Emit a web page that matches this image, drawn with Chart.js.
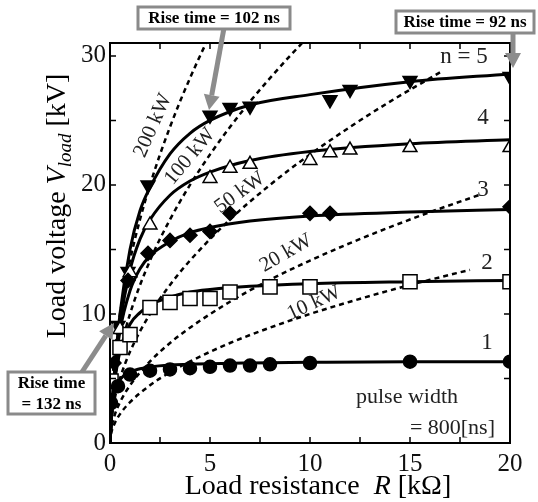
<!DOCTYPE html>
<html>
<head>
<meta charset="utf-8">
<script src="https://cdn.jsdelivr.net/npm/chart.js@4"></script>
<style>
html, body { margin: 0; padding: 0; background: #fff; }
</style>
</head>
<body>
<canvas id="chart" width="538" height="502"></canvas>
<script>
const SERIF = '"Liberation Serif", "Times New Roman", serif';

// measured points: load resistance R [kOhm] and load voltage V [kV], per stage count n
const r1 = [0.05, 0.4, 1, 2, 3, 4, 5, 6, 7, 8, 10, 15, 20];
const v1 = [3.1, 4.4, 5.3, 5.6, 5.7, 5.8, 5.9, 6.0, 6.0, 6.1, 6.2, 6.3, 6.3];
const r2 = [0.05, 0.5, 1, 2, 3, 4, 5, 6, 8, 10, 15, 20];
const v2 = [4.8, 7.4, 8.4, 10.5, 10.9, 11.2, 11.2, 11.7, 12.1, 12.1, 12.5, 12.5];
const r3 = [0.2, 0.9, 1.9, 3, 4, 5, 6, 10, 11, 20];
const v3 = [6.2, 12.6, 14.7, 15.7, 16.1, 16.4, 17.8, 17.8, 17.8, 18.3];
const r4 = [0.5, 1, 2, 5, 6, 7, 10, 11, 12, 15, 20];
const v4 = [8.8, 13.2, 16.9, 20.5, 21.3, 21.6, 21.9, 22.5, 22.7, 22.9, 22.9];
const r5 = [0.4, 0.9, 1.9, 5, 6, 7, 11, 12, 15, 20];
const v5 = [9.1, 13.3, 20.0, 25.4, 26.0, 26.1, 26.6, 27.4, 28.1, 28.4];

// solid fitted curves
const fitR = [0, 0.1, 0.25, 0.5, 1, 1.5, 2, 3, 4, 5, 7, 10, 15, 20];
const fit1 = [0, 2.5, 4.0, 4.9, 5.5, 5.75, 5.9, 6.05, 6.1, 6.15, 6.2, 6.25, 6.3, 6.3];
const fit2 = [0, 2.6, 4.9, 7.1, 9.2, 10.1, 10.7, 11.3, 11.7, 11.9, 12.15, 12.35, 12.5, 12.6];
const fit3 = [0, 2.8, 5.7, 8.7, 11.8, 13.5, 14.5, 15.6, 16.3, 16.7, 17.2, 17.6, 17.9, 18.1];
const fit4 = [0, 2.6, 5.7, 9.2, 13.4, 15.8, 17.3, 19.2, 20.3, 21.0, 21.9, 22.6, 23.2, 23.5];
const fit5 = [0, 2.7, 6.0, 10.0, 15.0, 18.0, 19.8, 22.4, 24.0, 25.0, 26.2, 27.0, 28.0, 28.6];

// dotted constant-power lines
const p200R = [0, 0.05, 0.1, 0.25, 0.5, 1, 1.5, 2, 2.5, 3, 3.5, 4, 4.5, 4.8];
const p200V = [0, 3.16, 4.47, 7.07, 10, 14.14, 17.32, 20, 22.36, 24.49, 26.46, 28.28, 30, 30.98];
const p100R = [0, 0.05, 0.1, 0.25, 0.5, 1, 2, 3, 4, 5, 6, 7, 8, 9, 9.6];
const p100V = [0, 2.24, 3.16, 5, 7.07, 10, 14.14, 17.32, 20, 22.36, 24.49, 26.46, 28.28, 30, 30.98];
const p50R = [0, 0.05, 0.1, 0.25, 0.5, 1, 2, 3, 4, 6, 8, 10, 12, 14, 16.5];
const p50V = [0, 1.58, 2.24, 3.54, 5, 7.07, 10, 12.25, 14.14, 17.32, 20, 22.36, 24.49, 26.46, 28.72];
const p20R = [0, 0.05, 0.1, 0.25, 0.5, 1, 2, 3, 4, 6, 8, 10, 12, 14, 16, 18.5];
const p20V = [0, 1, 1.41, 2.24, 3.16, 4.47, 6.32, 7.75, 8.94, 10.95, 12.65, 14.14, 15.49, 16.73, 17.89, 19.24];
const p10R = [0, 0.05, 0.1, 0.25, 0.5, 1, 2, 3, 4, 6, 8, 10, 12, 14, 16, 18];
const p10V = [0, 0.71, 1, 1.58, 2.24, 3.16, 4.47, 5.48, 6.32, 7.75, 8.94, 10, 10.95, 11.83, 12.65, 13.42];

const xTicks = [0, 5, 10, 15, 20];
const yTicks = [0, 10, 20, 30];

const pts = (xs, ys) => xs.map((x, i) => ({ x: x, y: ys[i] }));

function markers(xs, ys, style, radius, rot) {
    const hollow = style === 'rect' || (style === 'triangle' && !rot);
    return {
        data: pts(xs, ys), showLine: false, order: 0,
        pointStyle: style, pointRadius: radius, pointRotation: rot || 0,
        pointBackgroundColor: hollow ? '#fff' : '#000',
        pointBorderColor: '#000', pointBorderWidth: 1.5
    };
}
function fitLine(ys) {
    return {
        data: pts(fitR, ys), showLine: true, order: 1, pointRadius: 0,
        borderColor: '#000', borderWidth: 3, cubicInterpolationMode: 'monotone'
    };
}
function powerLine(xs, ys) {
    return {
        data: pts(xs, ys), showLine: true, order: 2, pointRadius: 0,
        borderColor: '#000', borderWidth: 2.5, borderDash: [5, 4], cubicInterpolationMode: 'monotone'
    };
}

function arrow(ctx, x1, y1, x2, y2) {
    const a = Math.atan2(y2 - y1, x2 - x1), head = 15, half = 8;
    ctx.beginPath();
    ctx.moveTo(x1, y1);
    ctx.lineTo(x2 - Math.cos(a) * head, y2 - Math.sin(a) * head);
    ctx.stroke();
    ctx.beginPath();
    ctx.moveTo(x2, y2);
    ctx.lineTo(x2 - Math.cos(a) * head - Math.sin(a) * half, y2 - Math.sin(a) * head + Math.cos(a) * half);
    ctx.lineTo(x2 - Math.cos(a) * head + Math.sin(a) * half, y2 - Math.sin(a) * head - Math.cos(a) * half);
    ctx.closePath();
    ctx.fill();
}

function richText(ctx, parts, x, y) {
    let w = 0;
    parts.forEach(p => { ctx.font = p.f; w += ctx.measureText(p.t).width; });
    let cx = x - w / 2;
    parts.forEach(p => {
        ctx.font = p.f;
        ctx.fillText(p.t, cx, y + (p.dy || 0));
        cx += ctx.measureText(p.t).width;
    });
}

function box(ctx, x, y, w, h, lines) {
    ctx.fillStyle = '#fff';
    ctx.fillRect(x, y, w, h);
    ctx.strokeStyle = '#8a8a8a';
    ctx.lineWidth = 3;
    ctx.strokeRect(x, y, w, h);
    ctx.fillStyle = '#000';
    ctx.font = 'bold 17px ' + SERIF;
    ctx.textAlign = 'center';
    ctx.textBaseline = 'middle';
    const lh = h / lines.length;
    lines.forEach((t, i) => ctx.fillText(t, x + w / 2, y + lh * (i + 0.5) + 1));
}

const decor = {
    id: 'decor',
    afterDraw(chart) {
        const ctx = chart.ctx, a = chart.chartArea;
        const xs = chart.scales.x, ys = chart.scales.y;
        ctx.save();
        // frame and inward ticks
        ctx.strokeStyle = '#000';
        ctx.lineWidth = 2;
        ctx.strokeRect(a.left, a.top, a.right - a.left, a.bottom - a.top);
        ctx.lineWidth = 1.5;
        for (let v = 0; v <= 20; v += 2.5) {
            const px = xs.getPixelForValue(v);
            ctx.beginPath();
            ctx.moveTo(px, a.bottom); ctx.lineTo(px, a.bottom - 6);
            ctx.moveTo(px, a.top); ctx.lineTo(px, a.top + 6);
            ctx.stroke();
        }
        for (let v = 0; v <= 30; v += 5) {
            const py = ys.getPixelForValue(v);
            ctx.beginPath();
            ctx.moveTo(a.left, py); ctx.lineTo(a.left + 6, py);
            ctx.moveTo(a.right, py); ctx.lineTo(a.right - 6, py);
            ctx.stroke();
        }

        // axis titles
        ctx.fillStyle = '#000';
        ctx.textAlign = 'left';
        ctx.textBaseline = 'alphabetic';
        richText(ctx, [
            { t: 'Load resistance  ', f: '28px ' + SERIF },
            { t: 'R', f: 'italic 28px ' + SERIF },
            { t: ' [k\u03A9]', f: '28px ' + SERIF }
        ], 318, 494);
        ctx.save();
        ctx.translate(65, 206);
        ctx.rotate(-Math.PI / 2);
        richText(ctx, [
            { t: 'Load voltage ', f: '28px ' + SERIF },
            { t: 'V', f: 'italic 28px ' + SERIF },
            { t: 'load', f: 'italic 19px ' + SERIF, dy: 6 },
            { t: ' [kV]', f: '28px ' + SERIF }
        ], 0, 0);
        ctx.restore();

        // power labels along the dotted lines
        ctx.fillStyle = '#222';
        ctx.font = '21px ' + SERIF;
        ctx.textAlign = 'center';
        ctx.textBaseline = 'middle';
        [['200 kW', 2.15, 24.6, 66], ['100 kW', 4.0, 22.2, 50], ['50 kW', 6.5, 19.4, 36],
         ['20 kW', 8.8, 14.7, 30], ['10 kW', 10.2, 10.85, 25]].forEach(l => {
            ctx.save();
            ctx.translate(xs.getPixelForValue(l[1]), ys.getPixelForValue(l[2]));
            ctx.rotate(-l[3] * Math.PI / 180);
            ctx.fillText(l[0], 0, 0);
            ctx.restore();
        });

        // stage numbers and pulse width note
        ctx.fillStyle = '#222';
        ctx.font = '23px ' + SERIF;
        ctx.fillText('n = 5', 464, 57);
        ctx.fillText('4', 483, 118);
        ctx.fillText('3', 483, 190);
        ctx.fillText('2', 487, 263);
        ctx.fillText('1', 487, 343);
        ctx.font = '22px ' + SERIF;
        ctx.textAlign = 'left';
        ctx.fillText('pulse width', 356, 397);
        ctx.textAlign = 'right';
        ctx.fillText('= 800[ns]', 495, 428);

        // rise time call-outs
        ctx.strokeStyle = '#8c8c8c';
        ctx.fillStyle = '#8c8c8c';
        ctx.lineWidth = 5;
        arrow(ctx, 224, 28, 209, 110);
        arrow(ctx, 513, 32, 513, 68);
        arrow(ctx, 82, 372, 114, 323);
        box(ctx, 138, 7, 152, 22, ['Rise time = 102 ns']);
        box(ctx, 396, 11, 138, 22, ['Rise time = 92 ns']);
        box(ctx, 8, 372, 87, 42, ['Rise time', '= 132 ns']);
        ctx.restore();
    }
};

new Chart(document.getElementById('chart'), {
    type: 'scatter',
    data: {
        datasets: [
            markers(r1, v1, 'circle', 6.5),
            markers(r2, v2, 'rect', 10),
            markers(r3, v3, 'rectRot', 7),
            markers(r4, v4, 'triangle', 8),
            markers(r5, v5, 'triangle', 8, 180),
            fitLine(fit1), fitLine(fit2), fitLine(fit3), fitLine(fit4), fitLine(fit5),
            powerLine(p200R, p200V), powerLine(p100R, p100V), powerLine(p50R, p50V),
            powerLine(p20R, p20V), powerLine(p10R, p10V)
        ]
    },
    options: {
        responsive: false,
        animation: false,
        layout: { padding: { top: 43, right: 28, left: 0, bottom: 0 } },
        plugins: { legend: { display: false }, tooltip: { enabled: false } },
        scales: {
            x: {
                type: 'linear', min: 0, max: 20,
                afterFit: s => { s.height = 59; },
                afterBuildTicks: s => { s.ticks = xTicks.map(v => ({ value: v })); },
                grid: { display: false, drawTicks: false },
                border: { display: false },
                ticks: { padding: 6, color: '#111', font: { family: SERIF, size: 25 } }
            },
            y: {
                type: 'linear', min: 0, max: 31,
                afterFit: s => { s.width = 110; },
                afterBuildTicks: s => { s.ticks = yTicks.map(v => ({ value: v })); },
                grid: { display: false, drawTicks: false },
                border: { display: false },
                ticks: { padding: 4, color: '#111', font: { family: SERIF, size: 25 } }
            }
        }
    },
    plugins: [decor]
});
</script>
</body>
</html>
